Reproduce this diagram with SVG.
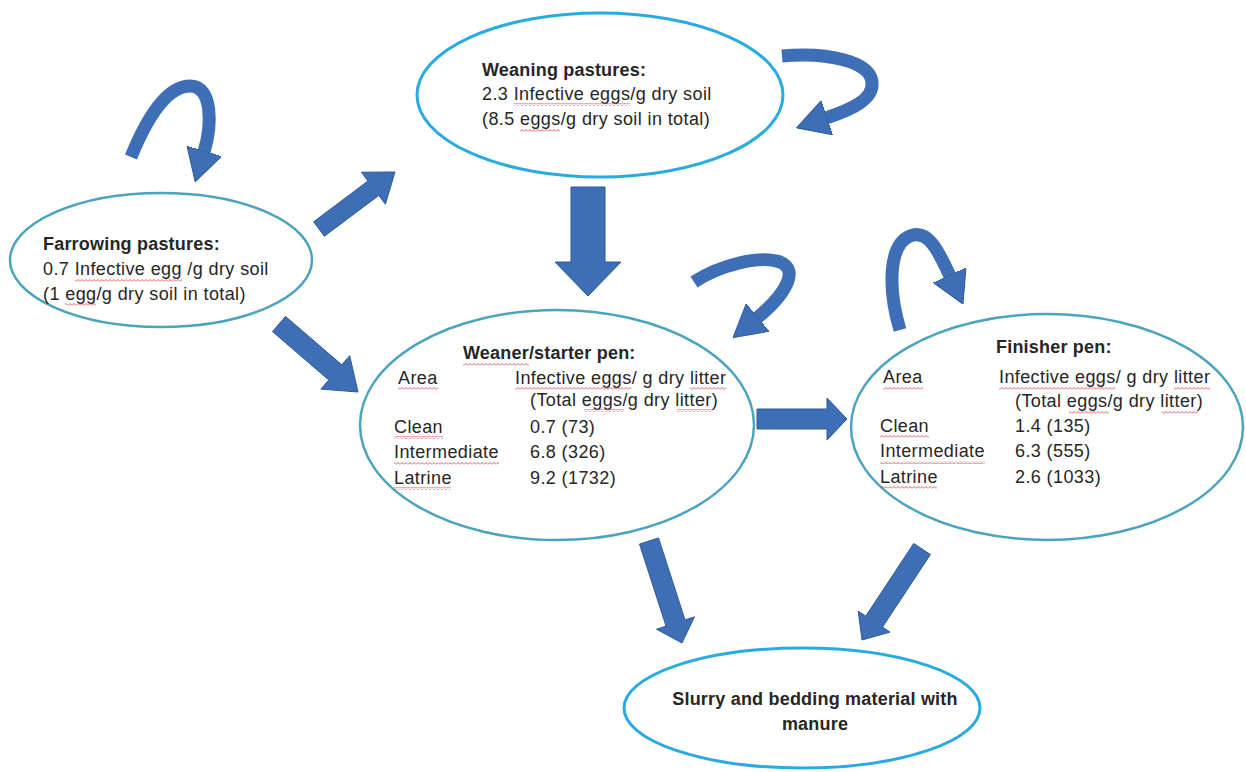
<svg xmlns="http://www.w3.org/2000/svg" width="1246" height="772" viewBox="0 0 1246 772">
<defs>
<style>
.bg{fill:#ffffff}
.ell{fill:#ffffff;stroke:#4ba3bd;stroke-width:2.5}
.ell2{fill:#ffffff;stroke:#29abe2;stroke-width:3}
.arr{fill:#3e6eb5;stroke:#2e5a98;stroke-width:1;stroke-linejoin:miter}
.loop{fill:none;stroke:#3e6eb5;stroke-width:13;stroke-linecap:butt}
text{font-family:"Liberation Sans",Arial,sans-serif;font-size:18px;fill:#262626;letter-spacing:0.4px}
.b{font-weight:bold;letter-spacing:0.2px}
.sq{fill:url(#wave)}
</style>
<pattern id="wave" patternUnits="userSpaceOnUse" x="0" y="0" width="4" height="3">
<path d="M0,2.5 L2,0.5 L4,2.5" fill="none" stroke="#e0474c" stroke-width="0.9"/>
</pattern>
<marker id="head" markerUnits="userSpaceOnUse" viewBox="0 0 32 36" refX="1" refY="18" markerWidth="32" markerHeight="36" orient="auto">
<polygon points="0,0 32,18 0,36" fill="#3e6eb5" stroke="#2e5a98" stroke-width="1"/>
</marker>
</defs>
<rect class="bg" x="0" y="0" width="1246" height="772"/>

<g id="connectors">
<polygon class="arr" points="324.4,236.2 378.8,195.4 385.4,204.2 395,172 361.4,172.2 368,181 313.6,221.8"/>
<polygon class="arr" points="272.5,331.6 328.8,380 320.9,389.1 358,392 349.7,355.7 341.8,364.8 285.5,316.4"/>
<polygon class="arr" points="571,187 605,187 605,262 621,262 588,296 555,262 571,262"/>
<polygon class="arr" points="757,409 827,409 827,398 847,419 827,440 827,429 757,429"/>
<polygon class="arr" points="639.5,544.1 666,626.1 656.5,629.2 682,643 694.5,616.8 685,619.9 658.5,537.9"/>
<polygon class="arr" points="913.7,543.5 865.8,616.1 858.2,611.1 862,640 890,632.1 882.5,627.1 930.4,554.5"/>
<path class="loop" d="M131,157 C150,110 170,86 190,86 C213,86 212,125 204,152" marker-end="url(#head)"/>
<path class="loop" d="M782,56 C830,52 870,62 872,82 C874,100 850,110 826,118" marker-end="url(#head)"/>
<path class="loop" d="M694,282 C720,265 760,255 780,262 C800,270 785,295 757,318" marker-end="url(#head)"/>
<path class="loop" d="M900,330 C888,290 888,245 910,236 C928,229 938,250 950,276" marker-end="url(#head)"/>
</g>

<g id="farrowing">
<ellipse class="ell" cx="161" cy="260" rx="151" ry="67"/>
<text class="b" x="43" y="250">Farrowing pastures:</text>
<text x="43" y="275">0.7 <tspan class="sp">Infective egg</tspan> /g dry soil</text>
<text x="43" y="300">(1 <tspan class="sp">egg</tspan>/g dry soil in total)</text>
<rect class="sq" x="75" y="279" width="107" height="3"/>
<rect class="sq" x="65" y="303" width="31" height="3"/>
</g>

<g id="weaning">
<ellipse class="ell2" cx="600" cy="95" rx="183" ry="82"/>
<text class="b" x="482" y="76">Weaning pastures:</text>
<text x="482" y="100">2.3 <tspan class="sp">Infective eggs</tspan>/g dry soil</text>
<text x="482" y="125">(8.5 <tspan class="sp">eggs</tspan>/g dry soil in total)</text>
<rect class="sq" x="514" y="103" width="116" height="3"/>
<rect class="sq" x="520" y="129" width="40" height="3"/>
</g>

<g id="weaner">
<ellipse class="ell" cx="557" cy="425" rx="197" ry="115"/>
<text class="b" x="463" y="359"><tspan class="sp">Weaner</tspan>/starter pen:</text>
<text x="398" y="384"><tspan class="sp">Area</tspan></text>
<text x="515" y="384"><tspan class="sp">Infective eggs</tspan>/ g dry <tspan class="sp">litter</tspan></text>
<text x="530" y="406">(Total <tspan class="sp">eggs</tspan>/g dry <tspan class="sp">litter</tspan>)</text>
<text x="394" y="433"><tspan class="sp">Clean</tspan></text>
<text x="530" y="433">0.7 (73)</text>
<text x="394" y="458"><tspan class="sp">Intermediate</tspan></text>
<text x="530" y="458">6.8 (326)</text>
<text x="394" y="484"><tspan class="sp">Latrine</tspan></text>
<text x="530" y="484">9.2 (1732)</text>
<rect class="sq" x="463" y="363" width="66" height="3"/>
<rect class="sq" x="398" y="387" width="40" height="3"/>
<rect class="sq" x="515" y="387" width="116" height="3"/>
<rect class="sq" x="690" y="387" width="36" height="3"/>
<rect class="sq" x="584" y="409" width="40" height="3"/>
<rect class="sq" x="677" y="409" width="36" height="3"/>
<rect class="sq" x="394" y="436" width="49" height="3"/>
<rect class="sq" x="394" y="462" width="105" height="3"/>
<rect class="sq" x="394" y="487" width="57" height="3"/>
</g>

<g id="finisher">
<ellipse class="ell" cx="1047" cy="427" rx="196" ry="113"/>
<text class="b" x="996" y="353">Finisher pen:</text>
<text x="883" y="383"><tspan class="sp">Area</tspan></text>
<text x="999" y="383"><tspan class="sp">Infective eggs</tspan>/ g dry <tspan class="sp">litter</tspan></text>
<text x="1015" y="407">(Total <tspan class="sp">eggs</tspan>/g dry <tspan class="sp">litter</tspan>)</text>
<text x="880" y="432"><tspan class="sp">Clean</tspan></text>
<text x="1015" y="432">1.4 (135)</text>
<text x="880" y="457"><tspan class="sp">Intermediate</tspan></text>
<text x="1015" y="457">6.3 (555)</text>
<text x="880" y="483"><tspan class="sp">Latrine</tspan></text>
<text x="1015" y="483">2.6 (1033)</text>
<rect class="sq" x="883" y="387" width="40" height="3"/>
<rect class="sq" x="999" y="387" width="116" height="3"/>
<rect class="sq" x="1174" y="387" width="36" height="3"/>
<rect class="sq" x="1069" y="411" width="40" height="3"/>
<rect class="sq" x="1162" y="411" width="36" height="3"/>
<rect class="sq" x="880" y="435" width="49" height="3"/>
<rect class="sq" x="880" y="461" width="105" height="3"/>
<rect class="sq" x="880" y="486" width="57" height="3"/>
</g>

<g id="slurry">
<ellipse class="ell2" cx="802" cy="708" rx="178" ry="60"/>
<text class="b" x="815" y="705" text-anchor="middle">Slurry and bedding material with</text>
<text class="b" x="815" y="730" text-anchor="middle">manure</text>
</g>
</svg>
